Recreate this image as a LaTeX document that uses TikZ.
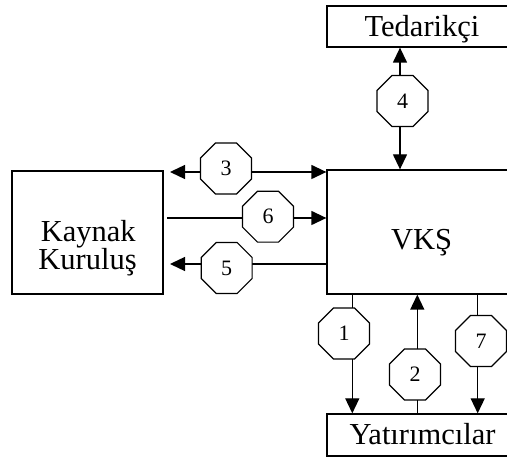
\documentclass[tikz,border=0pt]{standalone}
\usepackage{fontspec}
\setmainfont{Liberation Serif}
\usetikzlibrary{shapes.geometric,arrows.meta}
\begin{document}
\begin{tikzpicture}[x=1pt,y=1pt,
  box/.style={draw,line width=1.3pt,inner sep=0pt},
  lbl/.style={anchor=base,inner sep=0pt,font=\fontsize{30.5}{28}\selectfont},
  octa/.style={draw,fill=white,line width=1.2pt,regular polygon,regular polygon sides=8,
    minimum size=55pt,inner sep=0pt,font=\fontsize{22}{22}\selectfont},
  flow/.style={line width=1.3pt,-{Triangle[length=15pt 0,width=14pt 0]}},
  both/.style={line width=1.3pt,{Triangle[length=15pt 0,width=14pt 0]}-{Triangle[length=15pt 0,width=14pt 0]}}]
\useasboundingbox (0,0) rectangle (507,458);
\clip (0,0) rectangle (507,458);

% boxes
\node[box,minimum width=191pt,minimum height=41pt] (ted) at (422.5,431.5) {};
\node[box,minimum width=191pt,minimum height=124pt] (vks) at (422.5,226) {};
\node[box,minimum width=191pt,minimum height=42pt] (yat) at (422.5,23) {};
\node[box,minimum width=151pt,minimum height=123pt] (kay) at (87.5,225.5) {};

% box labels
\node[lbl] (tedl) at (422,421) {Tedarikçi};
\node[lbl] (vksl) at (421.7,208.7) {VKŞ};
\node[lbl] (yatl) at (422.5,13) {Yatırımcılar};
\node[lbl] (kayl1) at (88.3,216.3) {Kaynak};
\node[lbl] (kayl2) at (87.5,188.7) {Kuruluş};

% free ends of the horizontal flows
\coordinate (c3) at (170,286);
\coordinate (c6) at (167,240);
\coordinate (c5) at (170,194);
% x positions of the vertical flows
\coordinate (c4) at (400,0);
\coordinate (c1) at (352.3,0);
\coordinate (c2) at (417.3,0);
\coordinate (c7) at (477.7,0);

% connectors
\draw[both] (c3) -- (vks.west |- c3);
\draw[flow] (c6) -- (vks.west |- c6);
\draw[flow] (vks.west |- c5) -- (c5);
\draw[both] (vks.north -| c4) -- (ted.south -| c4);
\draw[flow] (vks.south -| c1) -- (yat.north -| c1);
\draw[flow] (yat.north -| c2) -- (vks.south -| c2);
\draw[flow] (vks.south -| c7) -- (yat.north -| c7);

% numbered markers
\node[octa] (o3) at (226,289.5) {3};
\node[octa] (o6) at (268,241.3) {6};
\node[octa] (o5) at (226.7,190) {5};
\node[octa] (o4) at (402.5,357) {4};
\node[octa] (o1) at (344,124.5) {1};
\node[octa] (o2) at (415,83.5) {2};
\node[octa] (o7) at (481,117) {7};
\end{tikzpicture}
\end{document}
